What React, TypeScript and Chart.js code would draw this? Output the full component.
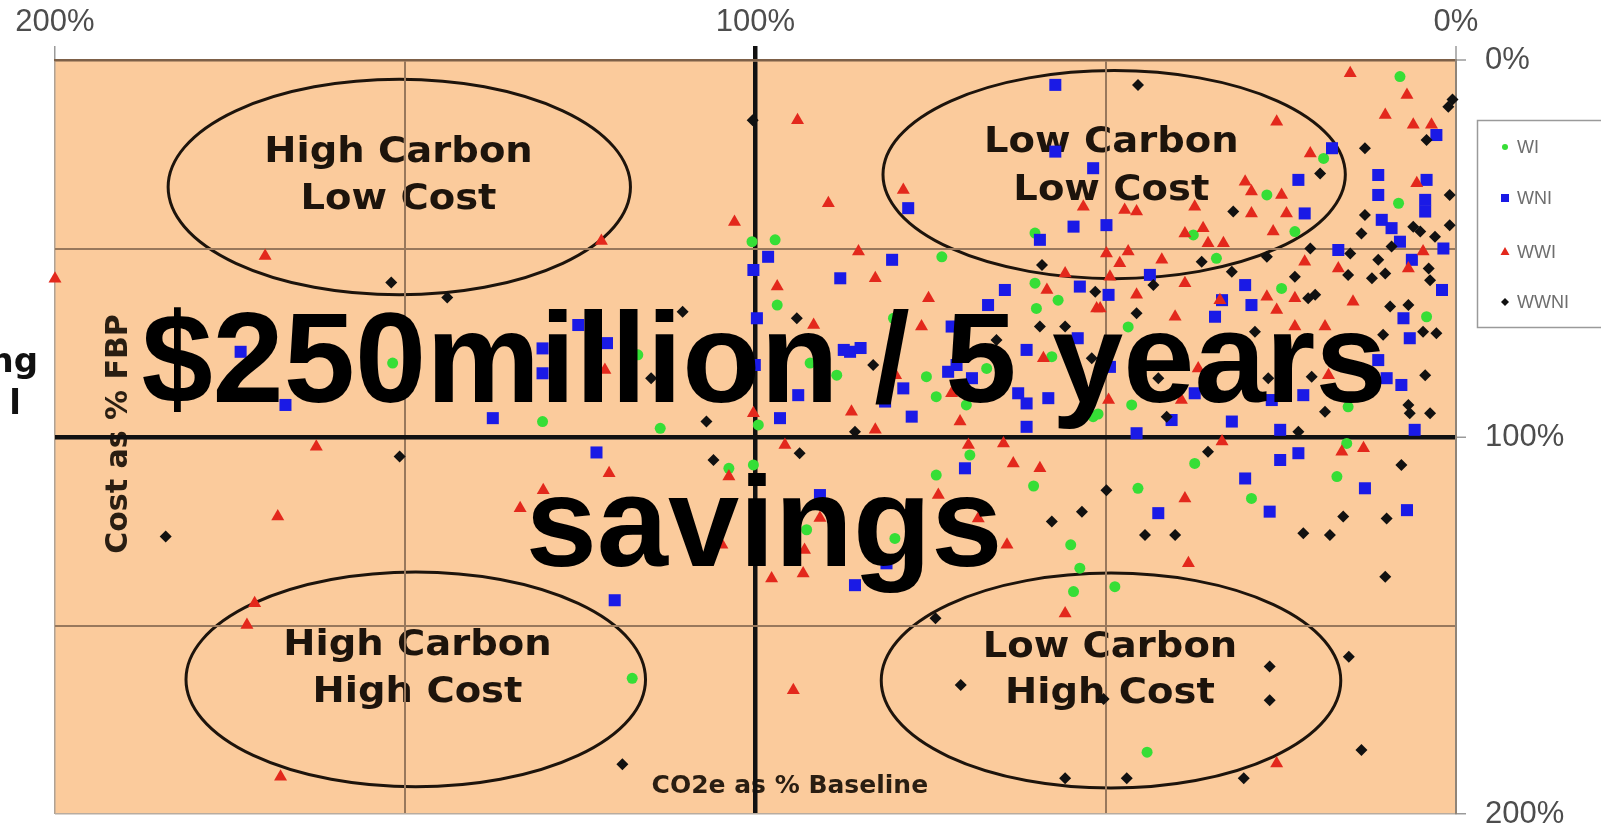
import React, { useEffect, useRef } from 'react';
import { Chart, registerables } from 'chart.js';

Chart.register(...registerables);

// ---------- data (x = CO2e as % Baseline, y = Cost as % FBP) ----------
const SERIES_LABELS = ['WI', 'WNI', 'WWI', 'WWNI'];

const WI_POINTS: [number, number][] = [
  [60.1, 45.9], [100.5, 48.2], [97.2, 47.7], [73.4, 52.2], [96.9, 65], [60.1, 59.2], [56.8, 63.7],
  [59.9, 65.9], [80.3, 68.5], [8, 4.4], [18.9, 26.1], [8.2, 38], [27, 35.8], [37.5, 46.4], [23, 45.5],
  [34.2, 52.6], [24.9, 60.6], [4.2, 68.1], [46.8, 70.8], [99.6, 96.8], [92.2, 80.4], [88.4, 83.6],
  [75.6, 84], [74.2, 89.3], [67, 81.8], [69.9, 91.5], [57.7, 78.7], [51.8, 94.6], [100.3, 107.4],
  [69.4, 104.8], [74.2, 110.1], [60.3, 113], [55, 128.6], [53.7, 134.8], [92.7, 124.6], [80.1, 126.9],
  [54.6, 141], [15.4, 92], [46.3, 91.5], [51.1, 93.9], [37.3, 107], [15.6, 101.7], [17, 110.5],
  [29.2, 116.3], [45.4, 113.6], [48.7, 139.7], [44.1, 183.6], [151.8, 80.4], [116.8, 78.2],
  [130.4, 95.9], [113.6, 97.7], [103.8, 108.3], [117.6, 164],
];

const WNI_POINTS: [number, number][] = [
  [78.2, 39.3], [57.2, 6.6], [57.2, 24.3], [51.8, 28.7], [54.6, 44.2], [59.4, 47.7], [98.2, 52.2],
  [100.3, 55.7], [80.5, 53], [87.9, 57.9], [64.4, 61], [66.8, 65], [53.7, 60.1], [99.8, 68.5], [72, 70.7],
  [2.8, 19.9], [17.7, 23.4], [22.5, 31.8], [11.1, 30.5], [11.1, 35.8], [4.2, 31.8], [4.4, 37.1],
  [4.4, 40.2], [21.6, 40.7], [49.9, 43.8], [16.8, 50.4], [10.6, 42.4], [9.2, 44.6], [8, 48.2], [1.8, 50],
  [6.3, 53], [2, 61], [43.7, 57], [49.6, 62.3], [30.1, 59.7], [29.2, 65], [33.4, 63.7], [34.4, 68.1],
  [7.5, 68.5], [100.1, 80.9], [93.9, 88.9], [96.5, 95], [86.5, 77.4], [87.4, 76.9], [85, 76.4],
  [81.5, 90.6], [78.9, 87.1], [77.7, 94.6], [72.5, 82.7], [71.3, 80.9], [69.1, 84.4], [61.3, 76.9],
  [62.5, 88.4], [61.3, 91.1], [58.2, 89.7], [61.3, 97.3], [54, 73.8], [70.1, 108.3], [85.8, 139.3],
  [81.3, 133.5], [90.8, 115.4], [6.6, 73.8], [11.1, 79.6], [9.9, 84.4], [7.8, 86.2], [5.9, 98.1],
  [21.8, 88.9], [26.3, 90.2], [25.1, 98.1], [32, 95.9], [40.6, 95.5], [37.3, 88.4], [45.6, 99],
  [49.4, 81.4], [25.1, 106.1], [22.5, 104.3], [13, 113.6], [30.1, 111], [26.6, 119.8], [42.5, 120.2],
  [7, 119.4], [173.5, 77.4], [167.1, 91.5], [125.3, 70.3], [121.2, 75.1], [130.4, 76.5], [130.4, 83.1],
  [137.5, 95], [122.7, 104.1], [120.1, 143.3],
];

const WWI_POINTS: [number, number][] = [
  [94, 16], [103, 43], [122, 48], [170, 52], [200, 58], [89.6, 38], [78.9, 34.5], [53.2, 38.9],
  [85.3, 50.8], [82.9, 57.9], [96.9, 60.1], [75.3, 63.2], [58.4, 61], [55.8, 56.6], [91.7, 70.3],
  [51.3, 65.9], [76.3, 70.7], [15.1, 3.5], [7, 9.3], [10.1, 14.6], [25.6, 16.4], [6.1, 17.2], [3.5, 17.2],
  [20.8, 24.8], [5.6, 32.7], [30.1, 32.3], [29.2, 34.9], [24.9, 35.8], [29.2, 40.7], [24.2, 40.7],
  [47.3, 39.8], [45.6, 40.2], [37.3, 38.9], [38.7, 46], [36.1, 44.6], [35.4, 48.6], [33.2, 48.6],
  [26.1, 45.5], [4.7, 50.8], [6.8, 55.3], [16.8, 55.3], [21.6, 53.5], [42, 53], [49.9, 51.3],
  [46.8, 50.8], [48, 53.9], [49.4, 57.5], [38.7, 59.2], [45.6, 62.3], [27, 62.8], [23, 63.2],
  [25.6, 66.3], [33.7, 63.7], [40.1, 68.1], [50.8, 65.9], [14.7, 64.1], [23, 70.7], [18.7, 70.7],
  [100.3, 93.7], [86.3, 93.3], [82.9, 98.1], [80, 83.6], [72, 88.4], [70.8, 95.9], [58.9, 79.1],
  [95.8, 102.1], [69.6, 102.1], [64.6, 101.7], [63.2, 107], [59.4, 108.3], [73.9, 115.4], [64.1, 128.6],
  [90.8, 121.5], [93, 130], [93.2, 136.2], [97.7, 137.5], [68.2, 121.6], [18.2, 83.6], [39.2, 90.2],
  [49.6, 90.2], [36.8, 81.8], [33.4, 101.2], [16.3, 103.9], [13.2, 103], [38.7, 116.3], [38.2, 133.5],
  [55.8, 146.8], [25.6, 186.6], [162.7, 102.6], [168.2, 121.1], [120.9, 109.6], [130.3, 114.1],
  [133.6, 118.9], [103.8, 110.5], [104.8, 128.6], [171.5, 144.1], [172.6, 149.9], [94.6, 167.2],
  [167.8, 190.1], [121.5, 82.2],
];

const WWNI_POINTS: [number, number][] = [
  [100.4, 16], [152, 59], [144, 63], [59.1, 54.4], [51.5, 61.5], [94.1, 68.5], [59.4, 70.7], [55.8, 70.7],
  [45.4, 6.6], [1.1, 12.4], [0.5, 10.5], [4.2, 21.2], [13, 23.4], [19.4, 30.1], [0.9, 35.8], [31.8, 40.2],
  [20.8, 50], [15.1, 51.3], [13, 41.1], [13.5, 46], [6.1, 44.2], [5.1, 45.5], [0.9, 43.8], [9.2, 49.5],
  [3, 46.9], [11.1, 53], [12, 57.9], [10.1, 56.6], [3.9, 55.3], [3.7, 58.4], [15.4, 57], [27, 52.2],
  [36.3, 53.5], [32, 56.2], [43.2, 59.7], [23, 57.5], [20.1, 62.3], [21.1, 63.2], [45.6, 67.2],
  [9.4, 65.4], [6.8, 65], [83.2, 80.9], [85.8, 98.6], [65.6, 74.3], [52, 79.1], [93.7, 104.3],
  [57.7, 122.4], [53.4, 119.8], [10.4, 72.9], [4.7, 72.1], [2.8, 72.5], [4.4, 83.6], [6.8, 91.5],
  [6.6, 93.7], [3.7, 93.7], [18.7, 93.3], [20.6, 84], [26.8, 84.4], [22.5, 98.6], [41.3, 94.6],
  [42.5, 84.4], [28.7, 72.1], [35.4, 103.9], [7.8, 107.4], [49.9, 114.1], [44.4, 126], [40.1, 126],
  [21.8, 125.5], [18, 126], [16.1, 121.1], [9.9, 121.6], [10.1, 137.1], [74.3, 148.1], [70.7, 165.8],
  [50.3, 169.5], [26.6, 160.9], [26.6, 169.8], [15.3, 158.3], [13.5, 183], [30.3, 190.5], [55.8, 190.5],
  [47, 190.5], [150.8, 105.2], [184.2, 126.4], [106, 106.1], [119, 186.8], [110.4, 66.8], [114.9, 84.4],
  [107, 95.9],
];

const X_TICK_VALUES = [200, 100, 0];
const X_TICK_TEXT = ['200%', '100%', '0%'];
const Y_TICK_VALUES = [0, 100, 200];
const Y_TICK_TEXT = ['0%', '100%', '200%'];

const X_TITLE = 'CO2e as % Baseline';
const Y_TITLE = 'Cost as % FBP';
const QUADRANT_LABELS = [
  ['High Carbon', 'Low Cost'],
  ['Low Carbon', 'Low Cost'],
  ['High Carbon', 'High Cost'],
  ['Low Carbon', 'High Cost'],
];
const HEADLINE = ['$250million / 5 years', 'savings'];
const CUT_LEFT_TEXT = ['ng', 'l'];

// ---------- styling ----------
const COLORS = ['#36DE36', '#1A1AE6', '#E3281C', '#111111'];
const STYLES = ['circle', 'rect', 'triangle', 'rectRot'];
const RADII = [5.5, 8.5, 7.5, 6];
const PLOT_BG = '#FBCB9C';
const INK = '#1d140c';

// ellipse geometry in axis units: cx, cy, rx, ry ; label x, line1 y, line2 y
const ELLIPSES = [
  { cx: 150.85, cy: 33.7, rx: 33.0, ry: 28.6, tx: 150.96, y1: 27.06, y2: 39.5 },
  { cx: 48.8, cy: 30.4, rx: 33.0, ry: 27.6, tx: 49.2, y1: 24.4, y2: 37.1 },
  { cx: 148.5, cy: 164.3, rx: 32.8, ry: 28.5, tx: 148.25, y1: 157.8, y2: 170.3 },
  { cx: 49.25, cy: 164.6, rx: 32.8, ry: 28.5, tx: 49.4, y1: 158.4, y2: 170.6 },
];

function stretchText(ctx: CanvasRenderingContext2D, text: string, x: number, y: number, sx: number) {
  ctx.save();
  ctx.translate(x, y);
  ctx.scale(sx, 1);
  ctx.fillText(text, 0, 0);
  ctx.restore();
}

const backdropPlugin = {
  id: 'backdrop',
  beforeDraw(chart: any) {
    const { ctx, chartArea: a, scales } = chart;
    const xs = scales.x;
    const ys = scales.y;
    ctx.save();
    ctx.fillStyle = PLOT_BG;
    ctx.fillRect(a.left, a.top, a.right - a.left, a.bottom - a.top);

    // ellipses
    ctx.strokeStyle = INK;
    ctx.lineWidth = 3;
    ELLIPSES.forEach((e) => {
      const cx = xs.getPixelForValue(e.cx);
      const cy = ys.getPixelForValue(e.cy);
      const rx = Math.abs(xs.getPixelForValue(e.cx + e.rx) - cx);
      const ry = Math.abs(ys.getPixelForValue(e.cy + e.ry) - cy);
      ctx.beginPath();
      ctx.ellipse(cx, cy, rx, ry, 0, 0, Math.PI * 2);
      ctx.stroke();
    });

    // quadrant labels
    ctx.fillStyle = INK;
    ctx.font = 'bold 35px "DejaVu Sans", Verdana, sans-serif';
    ctx.textAlign = 'center';
    ctx.textBaseline = 'alphabetic';
    ELLIPSES.forEach((e, i) => {
      const tx = xs.getPixelForValue(e.tx);
      stretchText(ctx, QUADRANT_LABELS[i][0], tx, ys.getPixelForValue(e.y1), 1.1);
      stretchText(ctx, QUADRANT_LABELS[i][1], tx, ys.getPixelForValue(e.y2), 1.1);
    });

    // axis titles
    ctx.fillStyle = '#2a1e12';
    ctx.font = 'bold 25px "DejaVu Sans", Verdana, sans-serif';
    ctx.fillText(X_TITLE, xs.getPixelForValue(95.1), ys.getPixelForValue(194.4));

    ctx.save();
    ctx.translate(xs.getPixelForValue(189.7), ys.getPixelForValue(99.2));
    ctx.rotate(-Math.PI / 2);
    ctx.font = 'bold 30px "DejaVu Sans", Verdana, sans-serif';
    ctx.fillText(Y_TITLE, 0, 0);
    ctx.restore();

    // cut-off text at the left edge
    ctx.fillStyle = '#111';
    ctx.font = 'bold 34px "DejaVu Sans", Verdana, sans-serif';
    ctx.textAlign = 'right';
    ctx.fillText(CUT_LEFT_TEXT[0], 38, 372);
    ctx.fillText(CUT_LEFT_TEXT[1], 21, 414);
    ctx.restore();
  },
  afterDraw(chart: any) {
    const { ctx } = chart;
    ctx.save();
    // legend
    const lx = 1477.5;
    const ly = 120.5;
    ctx.fillStyle = '#ffffff';
    ctx.fillRect(lx, ly, 140, 207);
    ctx.strokeStyle = '#9a9a9a';
    ctx.lineWidth = 1.5;
    ctx.strokeRect(lx, ly, 140, 207);
    const rows = [147, 198, 252, 302];
    ctx.font = '18px "Liberation Sans", Arial, sans-serif';
    ctx.textAlign = 'left';
    ctx.textBaseline = 'middle';
    chart.data.datasets.forEach((ds: any, i: number) => {
      const y = rows[i];
      const mx = 1505;
      ctx.fillStyle = COLORS[i];
      ctx.beginPath();
      if (i === 0) {
        ctx.arc(mx, y, 3, 0, Math.PI * 2);
      } else if (i === 1) {
        ctx.rect(mx - 4, y - 4, 8, 8);
      } else if (i === 2) {
        ctx.moveTo(mx, y - 5);
        ctx.lineTo(mx + 4.5, y + 3);
        ctx.lineTo(mx - 4.5, y + 3);
        ctx.closePath();
      } else {
        ctx.moveTo(mx, y - 4);
        ctx.lineTo(mx + 4, y);
        ctx.lineTo(mx, y + 4);
        ctx.lineTo(mx - 4, y);
        ctx.closePath();
      }
      ctx.fill();
      ctx.fillStyle = '#6e6e6e';
      ctx.fillText(ds.label, 1517, y + 1);
    });

    // headline overlay
    ctx.fillStyle = '#000000';
    ctx.font = 'bold 128px "Liberation Sans", Arial, sans-serif';
    ctx.textAlign = 'center';
    ctx.textBaseline = 'alphabetic';
    ctx.fillText(HEADLINE[0], 764, 402);
    ctx.fillText(HEADLINE[1], 764, 566);
    ctx.restore();
  },
};

const toXY = (pts: [number, number][]) => pts.map(([x, y]) => ({ x, y }));
const ALL_POINTS = [WI_POINTS, WNI_POINTS, WWI_POINTS, WWNI_POINTS];

const TRANSPARENT = 'rgba(0,0,0,0)';

export default function App() {
  const ref = useRef<HTMLCanvasElement>(null);

  useEffect(() => {
    if (!ref.current) return;
    const chart = new Chart(ref.current, {
      type: 'scatter',
      data: {
        datasets: SERIES_LABELS.map((label, i) => ({
          label,
          data: toXY(ALL_POINTS[i]),
          pointStyle: STYLES[i] as any,
          pointRadius: RADII[i],
          pointHoverRadius: RADII[i],
          backgroundColor: COLORS[i],
          borderColor: COLORS[i],
          borderWidth: 0,
          clip: false as any,
          order: 4 - i,
        })),
      },
      options: {
        animation: false,
        responsive: false,
        devicePixelRatio: 1,
        events: [],
        layout: { padding: { left: 55, right: 0, top: 0, bottom: 14 } },
        plugins: {
          legend: { display: false },
          tooltip: { enabled: false },
        },
        scales: {
          x: {
            type: 'linear',
            position: 'top',
            min: 0,
            max: 200,
            reverse: true,
            afterFit: (s: any) => {
              s.height = 60;
              s.paddingLeft = 0;
              s.paddingRight = 0;
            },
            ticks: {
              stepSize: 50,
              padding: 5,
              autoSkip: false,
              maxRotation: 0,
              color: '#4d4d4d',
              font: { family: '"Liberation Sans", Arial, sans-serif', size: 31 },
              callback: (v: any) => {
                const i = X_TICK_VALUES.indexOf(Number(v));
                return i >= 0 ? X_TICK_TEXT[i] : '';
              },
            },
            grid: {
              tickLength: 14,
              color: (c: any) => {
                const v = c.tick && c.tick.value;
                if (v === 100) return '#111111';
                if (v === 200) return '#b0a294';
                if (v === 0) return TRANSPARENT;
                return '#98785c';
              },
              lineWidth: (c: any) => {
                const v = c.tick && c.tick.value;
                if (v === 100) return 4.5;
                if (v === 200) return 1.5;
                return 2;
              },
              tickColor: (c: any) => {
                const v = c.tick && c.tick.value;
                if (v === 100) return '#111111';
                if (v === 0 || v === 200) return '#9a9a9a';
                return TRANSPARENT;
              },
              tickWidth: (c: any) => {
                const v = c.tick && c.tick.value;
                return v === 100 ? 4.5 : 1.5;
              },
            },
            border: { color: '#7d6048', width: 2.5 },
          },
          y: {
            type: 'linear',
            position: 'right',
            min: 0,
            max: 200,
            reverse: true,
            afterFit: (s: any) => {
              s.width = 145;
              s.paddingTop = 0;
              s.paddingBottom = 0;
            },
            ticks: {
              stepSize: 50,
              padding: 19,
              autoSkip: false,
              color: '#4d4d4d',
              font: { family: '"Liberation Sans", Arial, sans-serif', size: 31 },
              callback: (v: any) => {
                const i = Y_TICK_VALUES.indexOf(Number(v));
                return i >= 0 ? Y_TICK_TEXT[i] : '';
              },
            },
            grid: {
              tickLength: 10,
              color: (c: any) => {
                const v = c.tick && c.tick.value;
                if (v === 100) return '#111111';
                if (v === 200) return '#b8aca0';
                if (v === 0) return TRANSPARENT;
                return '#98785c';
              },
              lineWidth: (c: any) => {
                const v = c.tick && c.tick.value;
                if (v === 100) return 4.5;
                if (v === 200) return 1.5;
                return 2;
              },
              tickColor: (c: any) => {
                const v = c.tick && c.tick.value;
                if (v === 0 || v === 100 || v === 200) return '#9a9a9a';
                return TRANSPARENT;
              },
              tickWidth: 1.5,
            },
            border: { color: '#8f8478', width: 2 },
          },
        },
      } as any,
      plugins: [backdropPlugin],
    });
    return () => chart.destroy();
  }, []);

  return (
    <div
      style={{
        position: 'fixed',
        left: 0,
        top: 0,
        width: 1601,
        height: 828,
        background: '#ffffff',
        overflow: 'hidden',
      }}
    >
      <canvas ref={ref} width={1601} height={828} style={{ display: 'block', width: 1601, height: 828 }} />
    </div>
  );
}
